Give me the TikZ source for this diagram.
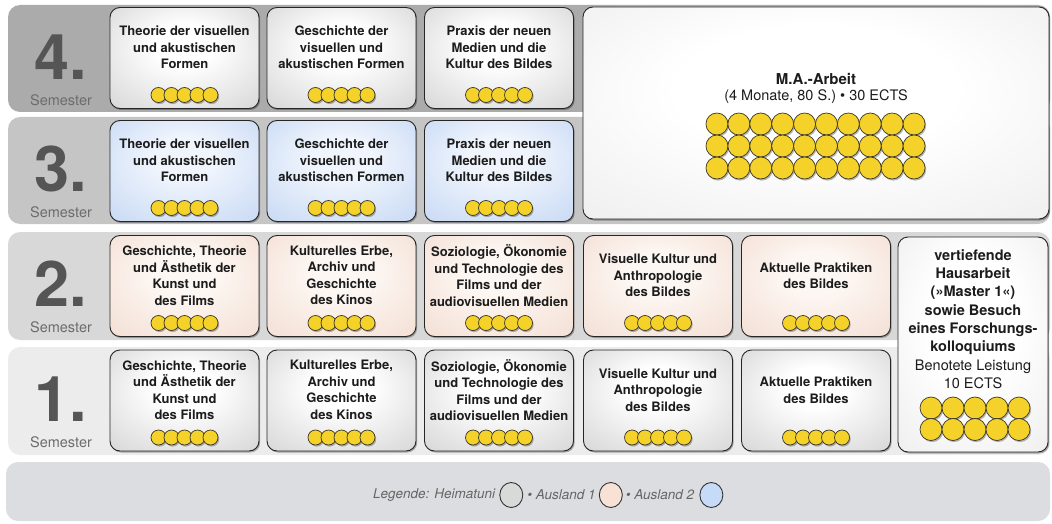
\documentclass[tikz,border=0pt]{standalone}
\usepackage{fontspec}
\setmainfont{TeX Gyre Heros}
\usetikzlibrary{shadows,shapes.geometric}
\definecolor{bandA}{HTML}{ABABAB}
\definecolor{bandB}{HTML}{C5C5C5}
\definecolor{bandC}{HTML}{D8D8D8}
\definecolor{bandD}{HTML}{ECECEC}
\definecolor{legband}{HTML}{DCDDE0}
\definecolor{gOut}{HTML}{C4C4C4}
\definecolor{pIn}{HTML}{FDF7F3}
\definecolor{pOut}{HTML}{EFD4C6}
\definecolor{bIn}{HTML}{F0F5FD}
\definecolor{bOut}{HTML}{B6CDF0}
\definecolor{lOut}{HTML}{E6E6E6}
\definecolor{coinY}{HTML}{F5D22A}
\definecolor{coinL}{HTML}{3A3628}
\definecolor{numC}{HTML}{555555}
\definecolor{semC}{HTML}{6C6C6C}
\definecolor{txtC}{HTML}{1C1C1C}
\definecolor{legC}{HTML}{666666}
\definecolor{legGray}{HTML}{D9D9D9}
\definecolor{legPeach}{HTML}{F8E2D6}
\definecolor{legBlue}{HTML}{C6DBF8}
\pgfdeclareradialshading{grayshade}{\pgfpoint{0bp}{8bp}}{color(0bp)=(white); color(10bp)=(white); color(50bp)=(gOut)}
\pgfdeclareradialshading{peachshade}{\pgfpoint{0bp}{8bp}}{color(0bp)=(pIn); color(10bp)=(pIn); color(50bp)=(pOut)}
\pgfdeclareradialshading{blueshade}{\pgfpoint{0bp}{8bp}}{color(0bp)=(bIn); color(10bp)=(bIn); color(50bp)=(bOut)}
\pgfdeclareradialshading{lightshade}{\pgfpoint{0bp}{8bp}}{color(0bp)=(white); color(15bp)=(white); color(50bp)=(lOut)}
\tikzset{
  modbox/.style={draw=black!85, line width=0.9pt, rounded corners=10pt, inner sep=0pt,
    minimum width=149pt, minimum height=101pt,
    drop shadow={shadow xshift=1.2pt, shadow yshift=-1.5pt, fill=black, opacity=.3}},
  gray box/.style={shading=grayshade},
  peach box/.style={shading=peachshade},
  blue box/.style={shading=blueshade},
  modtext/.style={align=center, text=txtC, inner sep=0pt,
    font=\fontsize{13}{16.5}\selectfont\bfseries},
  coin/.style={draw=coinL, fill=coinY, line width=0.7pt},
  semnum/.style={text=numC, inner sep=0pt, font=\fontsize{63}{63}\selectfont\bfseries},
  semword/.style={text=semC, inner sep=0pt, font=\fontsize{14.5}{16}\selectfont},
  legtext/.style={text=legC, inner sep=0pt, font=\fontsize{13.5}{15}\selectfont\itshape},
  legdot/.style={ellipse, draw=black!80, line width=0.9pt, minimum width=23pt, minimum height=25pt, inner sep=0pt},
}
\newcommand\coinrow[5]{%
  \pgfmathsetmacro\cstart{#1-(#3-1)*#4/2}%
  \foreach \k in {1,...,#3}{\fill[black,opacity=.28] ({\cstart+(\k-1)*#4+1.2},{#2+1.6}) circle (#5);}%
  \foreach \k in {1,...,#3}{\draw[coin] ({\cstart+(\k-1)*#4},{#2}) circle (#5);}%
}
\newcommand\module[5]{%
  \node[modbox,#4] (#1) at (#2,#3+50.5) {};
  \node[modtext] (#1-t) at (#2,#3+40) {#5};
  \coinrow{#2}{#3+87.5}{5}{13}{7.5pt}%
}
\newcommand\semlabel[3]{%
  \node[semnum] (#1) at (61,#3+52) {#2.};
  \node[semword] (#1-w) at (61,#3+95) {Semester};
}
\begin{document}
\begin{tikzpicture}[x=1pt,y=-1pt]
\useasboundingbox (0,0) rectangle (1052,524);
% bands
\fill[bandA, rounded corners=12pt] (8,5) rectangle (1050,112);
\fill[bandB, rounded corners=12pt] (8,117) rectangle (1050,224);
\fill[bandC, rounded corners=12pt] (8,232) rectangle (1050,340);
\fill[bandD, rounded corners=12pt] (8,347) rectangle (1050,455);
\fill[legband, rounded corners=12pt] (6,462) rectangle (1050,521);
% semester labels
\semlabel{s4}{4}{5}
\semlabel{s3}{3}{117}
\semlabel{s2}{2}{232}
\semlabel{s1}{1}{347}
% row 4
\module{m41}{184.5}{7.5}{gray box}{Theorie der visuellen\\und akustischen\\Formen}
\module{m42}{341.5}{7.5}{gray box}{Geschichte der\\visuellen und\\akustischen Formen}
\module{m43}{499}{7.5}{gray box}{Praxis der neuen\\Medien und die\\Kultur des Bildes}
% row 3
\module{m31}{184.5}{120.5}{blue box}{Theorie der visuellen\\und akustischen\\Formen}
\module{m32}{341.5}{120.5}{blue box}{Geschichte der\\visuellen und\\akustischen Formen}
\module{m33}{499}{120.5}{blue box}{Praxis der neuen\\Medien und die\\Kultur des Bildes}
% M.A.
\node[modbox, shading=lightshade, minimum width=466pt, minimum height=212pt] (ma) at (816,113) {};
\node[inner sep=0pt, text=txtC, font=\fontsize{15}{18}\selectfont\bfseries] (ma-t) at (816,79) {M.A.-Arbeit};
\node[inner sep=0pt, text=txtC, font=\fontsize{14.5}{18}\selectfont] (ma-s) at (816,97) {(4 Monate, 80 S.) • 30 ECTS};
\coinrow{815.5}{124}{10}{21.9}{11pt}
\coinrow{815.5}{146}{10}{21.9}{11pt}
\coinrow{815.5}{168}{10}{21.9}{11pt}
% row 2
\module{m21}{184.5}{235.5}{peach box}{Geschichte, Theorie\\und Ästhetik der\\Kunst und\\des Films}
\module{m22}{341.5}{235.5}{peach box}{Kulturelles Erbe,\\Archiv und\\Geschichte\\des Kinos}
\module{m23}{499}{235.5}{peach box}{Soziologie, Ökonomie\\und Technologie des\\Films und der\\audiovisuellen Medien}
\module{m24}{658}{235.5}{peach box}{Visuelle Kultur und\\Anthropologie\\des Bildes}
\module{m25}{816}{235.5}{peach box}{Aktuelle Praktiken\\des Bildes}
% row 1
\module{m11}{184.5}{350}{gray box}{Geschichte, Theorie\\und Ästhetik der\\Kunst und\\des Films}
\module{m12}{341.5}{350}{gray box}{Kulturelles Erbe,\\Archiv und\\Geschichte\\des Kinos}
\module{m13}{499}{350}{gray box}{Soziologie, Ökonomie\\und Technologie des\\Films und der\\audiovisuellen Medien}
\module{m14}{658}{350}{gray box}{Visuelle Kultur und\\Anthropologie\\des Bildes}
\module{m15}{816}{350}{gray box}{Aktuelle Praktiken\\des Bildes}
% Hausarbeit
\node[modbox, shading=lightshade, minimum width=150pt, minimum height=215pt] (ha) at (973,344.5) {};
\node[align=center, inner sep=0pt, text=txtC, font=\fontsize{14.5}{18.3}\selectfont] (ha-t) at (973,319)
  {\bfseries vertiefende\\\bfseries Hausarbeit\\\bfseries (»Master 1«)\\\bfseries sowie Besuch\\\bfseries eines Forschungs-\\\bfseries kolloquiums\\Benotete Leistung\\10 ECTS};
\coinrow{975}{408}{5}{22}{11pt}
\coinrow{975}{429.5}{5}{22}{11pt}
% legend
\node[legtext, anchor=west] (lg1) at (373,495) {Legende: Heimatuni};
\node[legdot, fill=legGray, anchor=west] (lo1) at ([xshift=4pt]lg1.east) {};
\node[legtext, anchor=west] (lg2) at ([xshift=4pt]lo1.east) {• Ausland 1};
\node[legdot, fill=legPeach, anchor=west] (lo2) at ([xshift=3pt]lg2.east) {};
\node[legtext, anchor=west] (lg3) at ([xshift=3pt]lo2.east) {• Ausland 2};
\node[legdot, fill=legBlue, anchor=west] (lo3) at ([xshift=5pt]lg3.east) {};
\end{tikzpicture}
\end{document}
